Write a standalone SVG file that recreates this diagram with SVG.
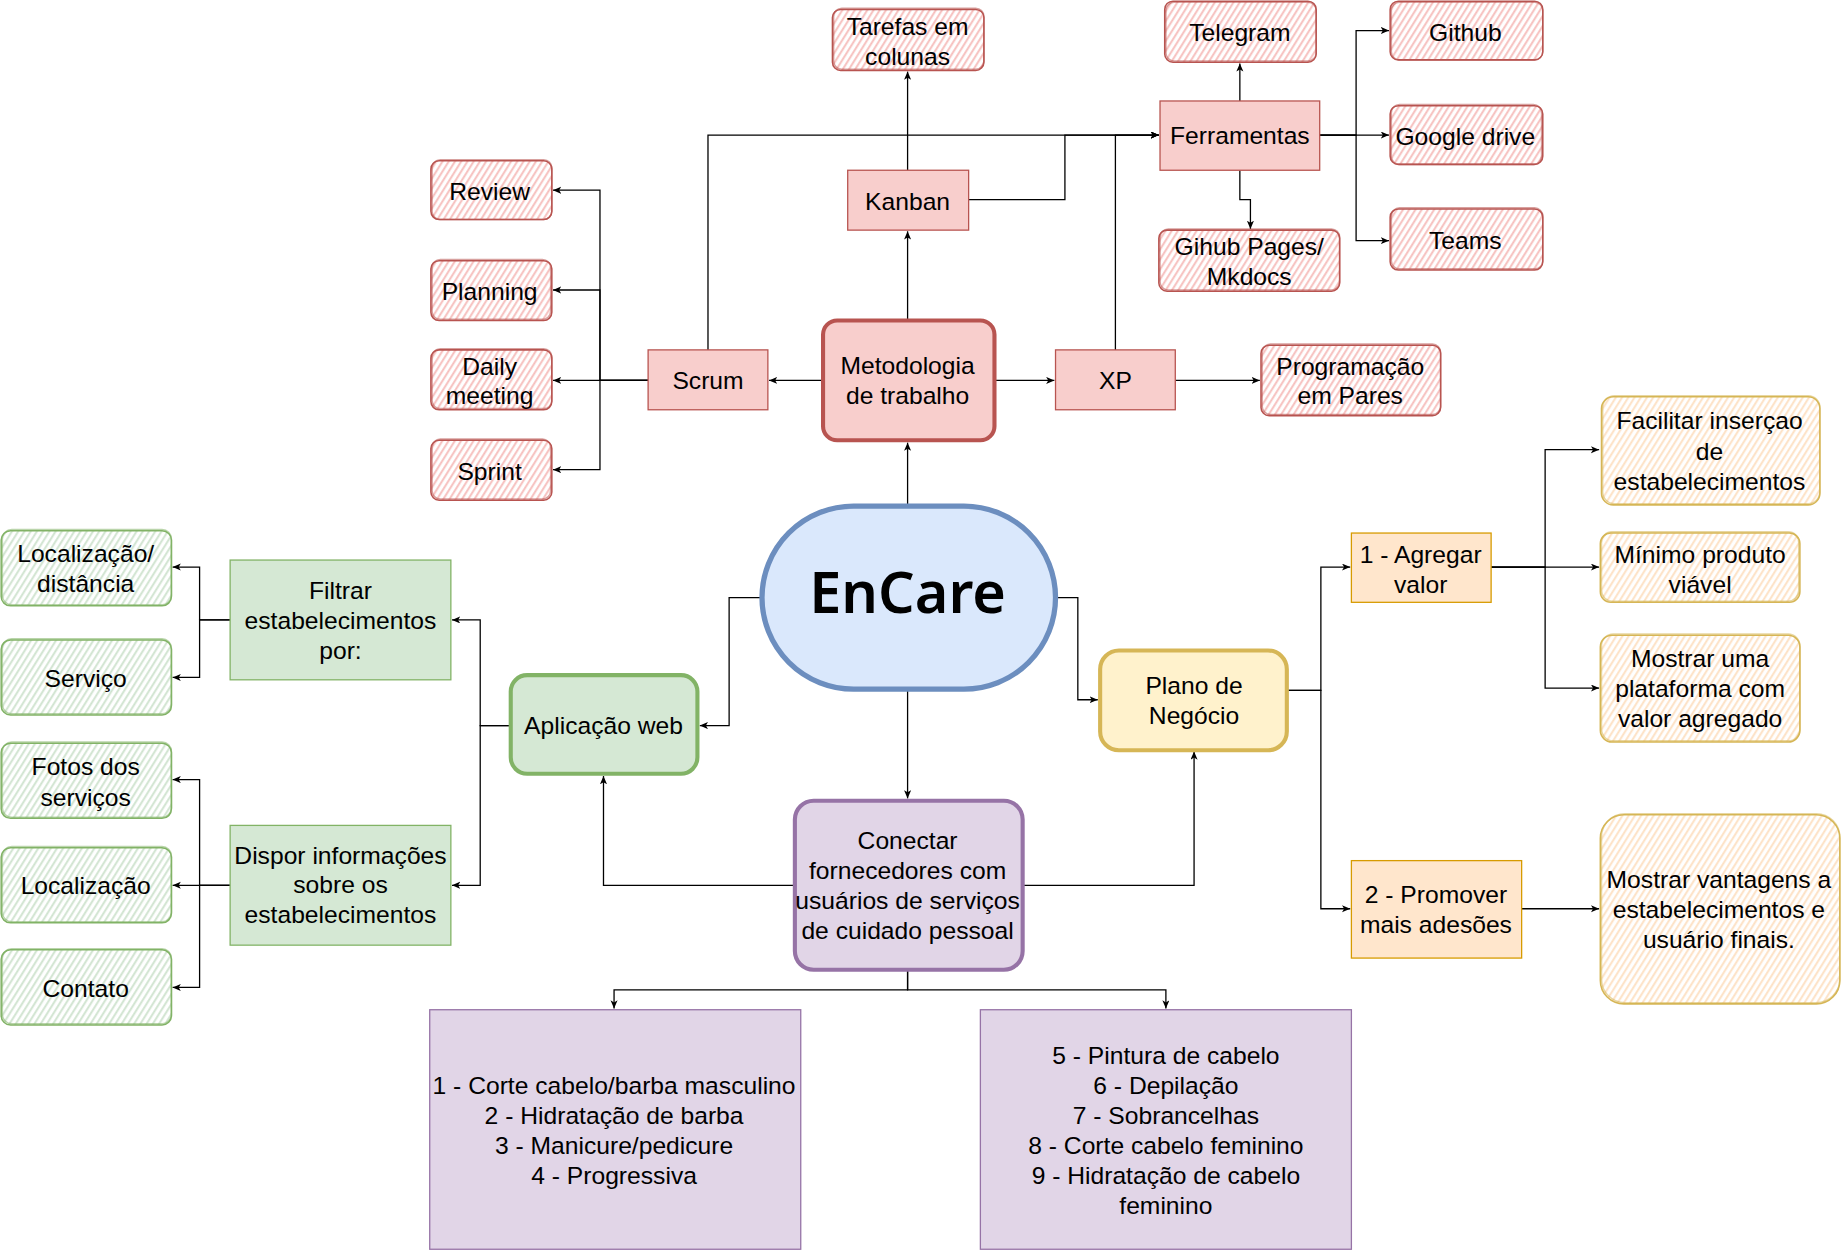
<svg xmlns="http://www.w3.org/2000/svg" width="1841" height="1251" viewBox="0 0 1841 1251">
<style>
text{font-family:"Liberation Sans",Arial,sans-serif;font-size:21px;fill:#000;text-anchor:middle}
.title{font-family:"Noto Sans","DejaVu Sans",sans-serif;font-size:49px;font-weight:600}
.edge{fill:none;stroke:#000;stroke-width:1.1;marker-end:url(#arr)}
.rR{fill:#f8cecc;stroke:#b85450;stroke-width:1.1}
.rG{fill:#d5e8d4;stroke:#82b366;stroke-width:1.1}
.rO{fill:#ffe6cc;stroke:#d79b00;stroke-width:1.1}
.rP{fill:#e1d5e7;stroke:#9673a6;stroke-width:1.1}
.skR{fill:url(#hR);stroke:#b85450;stroke-width:1.3}
.skG{fill:url(#hG);stroke:#82b366;stroke-width:1.3}
.skO{fill:url(#hO);stroke:#d6b656;stroke-width:1.3}
.o{fill:none;stroke-opacity:.55}
</style>
<defs>
<marker id="arr" markerUnits="userSpaceOnUse" markerWidth="8" markerHeight="7" refX="7" refY="3" orient="auto">
<path d="M0,0 L7,3 L0,6 L1.8,3 Z" fill="#000"/>
</marker>
<pattern id="hR" patternUnits="userSpaceOnUse" width="4.5" height="10" patternTransform="rotate(32)">
<rect width="4.5" height="10" fill="#fff"/><line x1="1" y1="0" x2="1" y2="10" stroke="#f6bdbb" stroke-width="1.6"/>
</pattern>
<pattern id="hG" patternUnits="userSpaceOnUse" width="4.5" height="10" patternTransform="rotate(32)">
<rect width="4.5" height="10" fill="#fff"/><line x1="1" y1="0" x2="1" y2="10" stroke="#cfe3ce" stroke-width="1.6"/>
</pattern>
<pattern id="hO" patternUnits="userSpaceOnUse" width="4.5" height="10" patternTransform="rotate(32)">
<rect width="4.5" height="10" fill="#fff"/><line x1="1" y1="0" x2="1" y2="10" stroke="#fde0c2" stroke-width="1.6"/>
</pattern>
</defs>
<rect width="1841" height="1251" fill="#fff"/>
<g transform="scale(1.17411)">
<g id="connectors">
<path class="edge" d="M700,324 H655"/>
<path class="edge" d="M552,324 H511 V162 H471"/>
<path class="edge" d="M552,324 H511 V247 H471"/>
<path class="edge" d="M552,324 H471"/>
<path class="edge" d="M552,324 H511 V400 H471"/>
<path class="edge" d="M603,298 V115 H987"/>
<path class="edge" d="M825,170 H907 V115 H987"/>
<path class="edge" d="M950,298 V115 H987"/>
<path class="edge" d="M773,272 V197"/>
<path class="edge" d="M773,145 V61"/>
<path class="edge" d="M848,324 H898"/>
<path class="edge" d="M1001,324 H1073"/>
<path class="edge" d="M1056,86 V54"/>
<path class="edge" d="M1056,145 V170 H1065 V195"/>
<path class="edge" d="M1124,115 H1155 V26 H1183"/>
<path class="edge" d="M1124,115 H1183"/>
<path class="edge" d="M1124,115 H1155 V205 H1183"/>
<path class="edge" d="M773,430 V377"/>
<path class="edge" d="M648,509 H621 V618 H596"/>
<path class="edge" d="M900,509 H918 V596 H935"/>
<path class="edge" d="M773,588 V680"/>
<path class="edge" d="M676,754 H514 V661"/>
<path class="edge" d="M872,754 H1017 V640"/>
<path class="edge" d="M773,827 V843 H523 V859"/>
<path class="edge" d="M773,827 V843 H993 V859"/>
<path class="edge" d="M434,618 H409 V528 H385"/>
<path class="edge" d="M434,618 H409 V754 H385"/>
<path class="edge" d="M196,528 H170 V483 H147"/>
<path class="edge" d="M196,528 H170 V577 H147"/>
<path class="edge" d="M196,754 H170 V664 H147"/>
<path class="edge" d="M196,754 H147"/>
<path class="edge" d="M196,754 H170 V841 H147"/>
<path class="edge" d="M1097,588 H1125 V483 H1150"/>
<path class="edge" d="M1097,588 H1125 V774 H1150"/>
<path class="edge" d="M1270,483 H1316 V383 H1362"/>
<path class="edge" d="M1270,483 H1362"/>
<path class="edge" d="M1270,483 H1316 V586 H1362"/>
<path class="edge" d="M1296,774 H1362"/>
</g>

<g id="encare">
<rect x="649" y="431" width="250" height="156" rx="78" fill="#dae8fc" stroke="#6c8ebf" stroke-width="4.5"/>
<text class="title" x="773" y="522">EnCare</text>
</g>
<g id="metodologia">
<rect x="701" y="273" width="146" height="102" rx="12" fill="#f8cecc" stroke="#b85450" stroke-width="3.5"/>
<text x="773" y="318.5">Metodologia<tspan x="773" dy="26">de trabalho</tspan></text>
</g>
<g id="kanban"><rect class="rR" x="722" y="145" width="103" height="51"/><text x="773" y="178.5">Kanban</text></g>
<g id="scrum"><rect class="rR" x="552" y="298" width="102" height="51"/><text x="603" y="331.5">Scrum</text></g>
<g id="xp"><rect class="rR" x="899" y="298" width="102" height="51"/><text x="950" y="331.5">XP</text></g>
<g id="ferramentas"><rect class="rR" x="988" y="86" width="136" height="59"/><text x="1056" y="122.5">Ferramentas</text></g>

<g id="tarefas"><rect class="skR" x="709" y="8" width="129" height="52" rx="7"/><rect class="skR o" x="710" y="7" width="128" height="52" rx="7"/>
<text x="773" y="29.5">Tarefas em<tspan x="773" dy="26">colunas</tspan></text></g>
<g id="programacao"><rect class="skR" x="1074" y="294" width="153" height="60" rx="7"/><rect class="skR o" x="1075" y="293" width="152" height="60" rx="7"/>
<text x="1150" y="319.5">Programação<tspan x="1150" dy="25">em Pares</tspan></text></g>
<g id="telegram"><rect class="skR" x="992" y="1" width="129" height="52" rx="7"/><rect class="skR o" x="993" y="2" width="128" height="50" rx="7"/>
<text x="1056" y="34.5">Telegram</text></g>
<g id="gihub"><rect class="skR" x="987" y="196" width="154" height="52" rx="7"/><rect class="skR o" x="988" y="195" width="153" height="52" rx="7"/>
<text x="1064" y="217.5">Gihub Pages/<tspan x="1064" dy="25">Mkdocs</tspan></text></g>
<g id="github"><rect class="skR" x="1184" y="1" width="130" height="50" rx="7"/><rect class="skR o" x="1185" y="2" width="129" height="49" rx="7"/>
<text x="1248" y="34.5">Github</text></g>
<g id="google"><rect class="skR" x="1184" y="90" width="130" height="50" rx="7"/><rect class="skR o" x="1185" y="89" width="128" height="51" rx="7"/>
<text x="1248" y="123.5">Google drive</text></g>
<g id="teams"><rect class="skR" x="1184" y="178" width="130" height="52" rx="7"/><rect class="skR o" x="1185" y="177" width="129" height="52" rx="7"/>
<text x="1248" y="212.5">Teams</text></g>
<g id="review"><rect class="skR" x="367" y="137" width="103" height="50" rx="7"/><rect class="skR o" x="368" y="136" width="102" height="51" rx="7"/>
<text x="417" y="170.5">Review</text></g>
<g id="planning"><rect class="skR" x="367" y="222" width="103" height="51" rx="7"/><rect class="skR o" x="368" y="221" width="101" height="51" rx="7"/>
<text x="417" y="255.5">Planning</text></g>
<g id="daily"><rect class="skR" x="367" y="298" width="103" height="51" rx="7"/><rect class="skR o" x="368" y="297" width="102" height="51" rx="7"/>
<text x="417" y="319.5">Daily<tspan x="417" dy="25">meeting</tspan></text></g>
<g id="sprint"><rect class="skR" x="367" y="375" width="103" height="51" rx="7"/><rect class="skR o" x="368" y="374" width="101" height="51" rx="7"/>
<text x="417" y="408.5">Sprint</text></g>

<g id="aplicacao">
<rect x="435" y="575" width="159" height="84" rx="14" fill="#d5e8d4" stroke="#82b366" stroke-width="3.5"/>
<text x="514" y="625.5">Aplicação web</text>
</g>
<g id="filtrar"><rect class="rG" x="196" y="477" width="188" height="102"/>
<text x="290" y="510.5">Filtrar<tspan x="290" dy="25.5">estabelecimentos</tspan><tspan x="290" dy="25.5">por:</tspan></text></g>
<g id="dispor"><rect class="rG" x="196" y="703" width="188" height="102"/>
<text x="290" y="735.5">Dispor informações<tspan x="290" dy="25.5">sobre os</tspan><tspan x="290" dy="25.5">estabelecimentos</tspan></text></g>
<g id="locdist"><rect class="skG" x="1" y="452" width="145" height="64" rx="8"/><rect class="skG o" x="2" y="451" width="144" height="64" rx="8"/>
<text x="73" y="478.5">Localização/<tspan x="73" dy="26">distância</tspan></text></g>
<g id="servico"><rect class="skG" x="1" y="545" width="145" height="64" rx="8"/><rect class="skG o" x="2" y="544" width="144" height="64" rx="8"/>
<text x="73" y="585.5">Serviço</text></g>
<g id="fotos"><rect class="skG" x="1" y="633" width="145" height="64" rx="8"/><rect class="skG o" x="2" y="632" width="144" height="64" rx="8"/>
<text x="73" y="660.5">Fotos dos<tspan x="73" dy="26">serviços</tspan></text></g>
<g id="localizacao"><rect class="skG" x="1" y="722" width="145" height="64" rx="8"/><rect class="skG o" x="2" y="721" width="144" height="64" rx="8"/>
<text x="73" y="761.5">Localização</text></g>
<g id="contato"><rect class="skG" x="1" y="809" width="145" height="64" rx="8"/><rect class="skG o" x="2" y="808" width="144" height="64" rx="8"/>
<text x="73" y="849.5">Contato</text></g>

<g id="conectar">
<rect x="677" y="682" width="194" height="144" rx="16" fill="#e1d5e7" stroke="#9673a6" stroke-width="3.5"/>
<text x="773" y="723.5">Conectar<tspan x="773" dy="25.5">fornecedores com</tspan><tspan x="773" dy="25.5">usuários de serviços</tspan><tspan x="773" dy="25.5">de cuidado pessoal</tspan></text>
</g>
<g id="servicos1"><rect class="rP" x="366" y="860" width="316" height="204"/>
<text x="523" y="931.5">1 - Corte cabelo/barba masculino<tspan x="523" dy="25.5">2 - Hidratação de barba</tspan><tspan x="523" dy="25.5">3 - Manicure/pedicure</tspan><tspan x="523" dy="25.5">4 - Progressiva</tspan></text></g>
<g id="servicos2"><rect class="rP" x="835" y="860" width="316" height="204"/>
<text x="993" y="906.5">5 - Pintura de cabelo<tspan x="993" dy="25.5">6 - Depilação</tspan><tspan x="993" dy="25.5">7 - Sobrancelhas</tspan><tspan x="993" dy="25.5">8 - Corte cabelo feminino</tspan><tspan x="993" dy="25.5">9 - Hidratação de cabelo</tspan><tspan x="993" dy="25.5">feminino</tspan></text></g>

<g id="plano">
<rect x="937" y="554" width="159" height="85" rx="16" fill="#fff2cc" stroke="#d6b656" stroke-width="3.5"/>
<text x="1017" y="591.5">Plano de<tspan x="1017" dy="25.5">Negócio</tspan></text>
</g>
<g id="agregar"><rect class="rO" x="1151" y="454" width="119" height="59"/>
<text x="1210" y="479.5">1 - Agregar<tspan x="1210" dy="25.5">valor</tspan></text></g>
<g id="promover"><rect class="rO" x="1151" y="733" width="145" height="83"/>
<text x="1223" y="769.5">2 - Promover<tspan x="1223" dy="25.5">mais adesões</tspan></text></g>
<g id="facilitar"><rect class="skO" x="1364" y="338" width="186" height="92" rx="10"/><rect class="skO o" x="1365" y="337" width="185" height="92" rx="10"/>
<text x="1456" y="365.5">Facilitar inserçao<tspan x="1456" dy="26">de</tspan><tspan x="1456" dy="26">estabelecimentos</tspan></text></g>
<g id="minimo"><rect class="skO" x="1363" y="454" width="170" height="59" rx="9"/><rect class="skO o" x="1364" y="453" width="168" height="59" rx="9"/>
<text x="1448" y="479.5">Mínimo produto<tspan x="1448" dy="25.5">viável</tspan></text></g>
<g id="mostraruma"><rect class="skO" x="1363" y="541" width="170" height="91" rx="10"/><rect class="skO o" x="1364" y="540" width="169" height="91" rx="10"/>
<text x="1448" y="568.5">Mostrar uma<tspan x="1448" dy="25.5">plataforma com</tspan><tspan x="1448" dy="25.5">valor agregado</tspan></text></g>
<g id="vantagens"><rect class="skO" x="1363" y="694" width="204" height="161" rx="20"/><rect class="skO o" x="1364" y="693" width="203" height="161" rx="20"/>
<text x="1464" y="756.5">Mostrar vantagens a<tspan x="1464" dy="25.5">estabelecimentos e</tspan><tspan x="1464" dy="25.5">usuário finais.</tspan></text></g>
</g>
</svg>
